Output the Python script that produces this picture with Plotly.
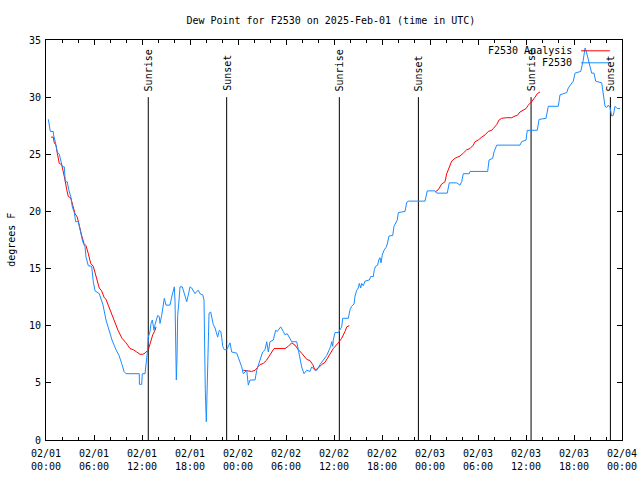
import pandas as pd
import plotly.graph_objects as go

BASE = pd.Timestamp("2025-02-01 00:00")

# F2530 observations: hours since 2025-02-01 00:00 UTC, dew point (F)
obs_hours = [0.29, 0.41, 0.54, 0.91, 0.94, 1.16, 1.41, 1.66, 1.88, 2.04, 2.29, 2.41, 2.66, 2.84, 3.09,
             3.29, 3.54, 3.71, 4.04, 4.34, 4.59, 4.88, 5.0, 5.29, 5.71, 5.91, 6.13, 6.66, 6.88, 7.13,
             7.5, 7.88, 8.25, 8.75, 9.13, 9.5, 9.75, 10.0, 11.66, 11.68, 11.96, 12.04, 12.38, 12.66, 12.79,
             13.0, 13.13, 13.29, 13.5, 13.63, 13.84, 13.96, 14.16, 14.25, 14.46, 14.66, 14.79, 15.0, 15.5,
             15.71, 15.91, 16.04, 16.13, 16.21, 16.29, 16.38, 16.46, 16.63, 16.75, 17.04, 17.16, 17.38,
             17.59, 17.79, 18.0, 18.21, 18.41, 18.63, 18.84, 19.04, 19.25, 19.59, 19.75, 19.79, 19.91,
             20.04, 20.13, 20.25, 20.38, 20.59, 20.71, 20.91, 21.13, 21.34, 21.46, 21.66, 21.84, 21.96,
             22.09, 22.29, 22.59, 23.0, 23.21, 23.84, 24.46, 24.66, 25.09, 25.29, 25.5, 26.13, 26.34,
             26.75, 27.09, 27.38, 27.59, 27.79, 28.0, 28.41, 28.71, 28.91, 29.34, 29.66, 29.88, 30.16,
             30.41, 30.71, 31.34, 31.54, 31.75, 31.96, 32.25, 32.59, 33.0, 33.21, 33.63, 33.84, 34.25,
             34.66, 35.09, 35.41, 35.59, 35.71, 35.84, 35.91, 36.13, 36.54, 36.75, 36.96, 37.09, 37.79,
             38.0, 38.21, 38.5, 38.63, 38.84, 39.04, 39.16, 39.34, 39.46, 39.66, 39.88, 40.41, 40.59,
             40.91, 41.04, 41.21, 41.46, 41.59, 41.75, 41.88, 42.04, 42.25, 42.5, 42.66, 42.88, 43.34,
             43.5, 43.75, 43.91, 44.04, 44.88, 45.09, 45.29, 47.38, 47.66, 48.63, 48.84, 50.16, 50.41,
             51.34, 51.75, 51.96, 52.16, 52.91, 53.0, 55.21, 55.38, 55.84, 56.0, 56.34, 59.25, 59.46,
             60.0, 60.16, 61.41, 61.63, 62.5, 62.79, 64.04, 64.25, 65.09, 65.29, 65.91, 66.13, 66.84,
             67.16, 67.38, 67.5, 67.79, 68.0, 68.21, 68.5, 68.71, 69.46, 69.66, 69.88, 70.09, 70.29,
             70.5, 70.71, 70.91, 71.13, 71.41, 71.75]
obs_dewpt = [28.06, 27.3, 27.0, 27.0, 26.7, 26.1, 25.2, 25.0, 24.3, 23.9, 23.9, 22.6, 22.6, 21.9, 21.3,
             20.4, 19.9, 19.1, 19.1, 18.1, 17.35, 16.9, 16.0, 15.25, 15.2, 13.85, 13.05, 12.8, 12.25, 11.8,
             10.5, 9.6, 8.75, 7.9, 7.4, 6.6, 6.0, 5.8, 5.8, 4.87, 4.87, 5.8, 5.8, 7.6, 9.0,
             9.5, 10.2, 10.5, 9.6, 10.1, 10.5, 10.9, 10.8, 10.2, 10.9, 12.0, 12.4, 11.8, 11.8,
             12.5, 13.0, 13.4, 12.1, 7.3, 5.25, 7.3, 10.9, 12.25, 13.4, 13.4, 13.1, 12.5,
             12.1, 12.7, 13.4, 13.3, 13.0, 12.8, 13.0, 13.1, 12.8, 12.7, 12.25, 9.6, 4.4,
             1.6, 4.1, 8.6, 11.1, 11.2, 10.65, 10.1, 9.8, 9.3, 9.0, 9.6, 9.5, 9.0,
             8.2, 7.9, 7.9, 8.5, 7.7, 7.6, 6.4, 5.8, 6.1, 4.8, 5.25, 5.25, 6.1,
             7.0, 7.7, 7.9, 8.6, 7.7, 8.6, 8.75, 9.6, 9.5, 9.9, 9.5, 9.2, 9.3,
             9.0, 8.6, 8.6, 7.9, 7.15, 6.4, 5.8, 6.1, 6.0, 6.4, 6.1, 6.1, 6.6,
             7.0, 7.4, 7.9, 8.2, 8.6, 8.2, 8.75, 9.4, 9.4, 9.7, 9.9, 10.65, 10.65,
             11.4, 11.7, 11.9, 12.6, 13.1, 13.3, 13.7, 13.3, 13.7, 13.5, 13.9, 14.0, 14.3,
             14.3, 14.9, 15.2, 15.3, 15.75, 15.95, 15.5, 16.2, 16.6, 16.85, 17.15, 17.85, 17.9,
             18.7, 19.1, 19.25, 19.9, 20.0, 20.8, 20.9, 20.9, 21.8, 21.8, 21.6, 21.6, 22.5,
             22.5, 22.3, 22.6, 23.3, 23.3, 23.5, 23.5, 24.5, 24.65, 25.2, 25.8, 25.8, 26.1,
             26.25, 27.1, 27.1, 28.05, 28.15, 29.2, 29.2, 30.2, 30.4, 30.8, 31.4, 32.1, 32.25,
             33.25, 34.3, 34.1, 33.25, 32.8, 32.1, 32.1, 31.4, 31.25, 30.2, 29.2, 29.1, 29.3,
             29.1, 28.35, 28.4, 29.2, 29.0, 29.0]

# F2530 Analysis: hours since start, dew point (F); None = no analysis
ana_hours = [0.63, 0.91, 1.04, 1.25, 1.41, 1.66, 1.96, 2.16, 2.38, 2.59, 2.79, 3.09, 3.29, 3.63, 3.91,
             4.16, 4.46, 4.75, 5.0, 5.29, 5.59, 5.91, 6.16, 6.41, 6.66, 6.96, 7.25, 7.5, 8.0, 8.5,
             9.0, 9.5, 10.0, 10.5, 10.91, 11.34, 11.75, 12.09, 12.38, 12.79, 13.09, 13.34, 13.63, 13.75,
             20.0,
             24.66, 25.71, 26.13, 26.54, 26.75, 27.16, 27.59, 27.91, 28.21, 28.5, 29.88, 30.29, 30.71,
             31.13, 31.54, 31.96, 32.59, 33.0, 33.34, 33.63, 34.04, 34.46, 34.88, 35.29, 35.5, 35.91,
             36.54, 36.96, 37.38, 37.59, 37.91,
             43.0,
             48.63, 49.04, 49.46, 49.88, 50.09, 50.41, 50.71, 51.13, 51.75, 52.16, 52.59, 53.0, 53.41,
             53.63, 54.04, 54.46, 54.88, 55.29, 55.71, 55.91, 56.34, 56.63, 56.96, 57.59, 58.21, 58.63,
             58.91, 59.25, 59.66, 60.0, 60.29, 60.71, 61.13, 61.41, 61.75]
ana_dewpt = [26.5, 26.5, 26.0, 25.8, 25.1, 24.2, 24.1, 23.5, 22.75, 21.9, 21.3, 21.2, 20.7, 19.8, 19.5,
             18.7, 17.9, 17.2, 17.0, 16.3, 15.45, 15.2, 14.6, 14.0, 13.3, 13.05, 12.5, 12.3, 11.4, 10.5,
             9.6, 8.9, 8.5, 8.0, 7.9, 7.7, 7.5, 7.5, 7.6, 7.9, 8.6, 9.2, 9.6, 9.9,
             None,
             6.1, 6.0, 6.1, 6.4, 6.6, 6.7, 7.0, 7.35, 7.7, 8.0, 8.0, 8.2, 8.5,
             8.3, 7.9, 7.6, 7.05, 6.95, 6.6, 6.1, 6.3, 6.6, 6.8, 7.3, 7.6, 8.0,
             8.5, 8.9, 9.5, 9.9, 10.0,
             None,
             21.7, 21.9, 22.4, 22.6, 23.3, 23.9, 24.4, 24.65, 24.85, 25.1, 25.4, 25.5, 25.8,
             26.1, 26.25, 26.5, 26.7, 27.0, 27.1, 27.25, 27.6, 28.0, 28.15, 28.2, 28.2, 28.35,
             28.4, 28.7, 28.9, 29.0, 29.3, 29.6, 30.0, 30.3, 30.45]

sun_times = ["2025-02-01 12:47", "2025-02-01 22:35", "2025-02-02 12:40",
             "2025-02-02 22:33", "2025-02-03 12:38", "2025-02-03 22:33"]
sun_labels = ["Sunrise", "Sunset", "Sunrise", "Sunset", "Sunrise", "Sunset"]
sun_line_top = 30

tick_times = pd.date_range("2025-02-01 00:00", "2025-02-04 00:00", freq="6h")
tick_text = [t.strftime("%m/%d") + "<br>" + t.strftime("%H:%M") for t in tick_times]

ana_label = "F2530 Analysis"
obs_label = "F2530"
red = "#ff0000"
blue = "#1a8cff"
FONT = "DejaVu Sans Mono"

obs_t = [BASE + pd.Timedelta(hours=h) for h in obs_hours]
ana_t = [BASE + pd.Timedelta(hours=h) for h in ana_hours]

fig = go.Figure()
for st in sun_times:
    fig.add_trace(go.Scatter(x=[st, st], y=[0, sun_line_top], mode="lines",
                             line=dict(color="black", width=1), showlegend=False, hoverinfo="skip"))
fig.add_trace(go.Scatter(x=ana_t, y=ana_dewpt, mode="lines", name=ana_label,
                         line=dict(color=red, width=1), connectgaps=False, showlegend=False))
fig.add_trace(go.Scatter(x=obs_t, y=obs_dewpt, mode="lines", name=obs_label,
                         line=dict(color=blue, width=1), showlegend=False))

for st, lab in zip(sun_times, sun_labels):
    fig.add_annotation(x=st, y=sun_line_top, text=lab, textangle=-90, showarrow=False,
                       xanchor="center", yanchor="bottom", yshift=4,
                       font=dict(family=FONT, size=10, color="black"))

# manual gnuplot-style key (text right, sample left)
for i, (lab, col) in enumerate([(ana_label, red), (obs_label, blue)]):
    ypos = 0.973 - i * 0.03
    fig.add_annotation(xref="paper", yref="paper", x=0.917, y=ypos, text=lab, showarrow=False,
                       xanchor="right", yanchor="middle", font=dict(family=FONT, size=10, color="black"))
    fig.add_shape(type="line", xref="paper", yref="paper", x0=0.929, x1=0.979, y0=ypos, y1=ypos,
                  line=dict(color=col, width=1))

# y axis title
fig.add_annotation(xref="paper", yref="paper", x=-0.061, y=0.5, text="degrees F", textangle=-90,
                   showarrow=False, xanchor="center", yanchor="middle",
                   font=dict(family=FONT, size=10, color="black"))

fig.update_layout(
    width=640, height=480,
    margin=dict(l=46, r=18, t=40, b=40, autoexpand=False),
    paper_bgcolor="white", plot_bgcolor="white",
    font=dict(family=FONT, size=10, color="black"),
    title=dict(text="Dew Point for F2530 on 2025-Feb-01 (time in UTC)", x=0.517, xanchor="center",
               y=0.958, yanchor="middle", font=dict(family=FONT, size=10)),
    showlegend=False,
)
fig.update_xaxes(type="date", range=["2025-02-01 00:00", "2025-02-04 00:00"], automargin=False,
                 tickvals=tick_times, ticktext=tick_text, ticks="inside", ticklen=5,
                 tickcolor="black", showline=True, linecolor="black", linewidth=1, mirror="ticks",
                 showgrid=False, zeroline=False, ticklabelstandoff=4,
                 minor=dict(dtick=2 * 3600 * 1000, tick0="2025-02-01", ticks="inside", ticklen=3,
                            tickcolor="black", showgrid=False),
                 tickfont=dict(family=FONT, size=10))
fig.update_yaxes(range=[0, 35], dtick=5, ticks="inside", ticklen=5, tickcolor="black", automargin=False,
                 showline=True, linecolor="black", linewidth=1, mirror="ticks",
                 showgrid=False, zeroline=False, ticklabelstandoff=2,
                 tickfont=dict(family=FONT, size=10))

fig.write_html("out.html", config={"displayModeBar": False},
               post_script="document.body.style.margin='0px';")
